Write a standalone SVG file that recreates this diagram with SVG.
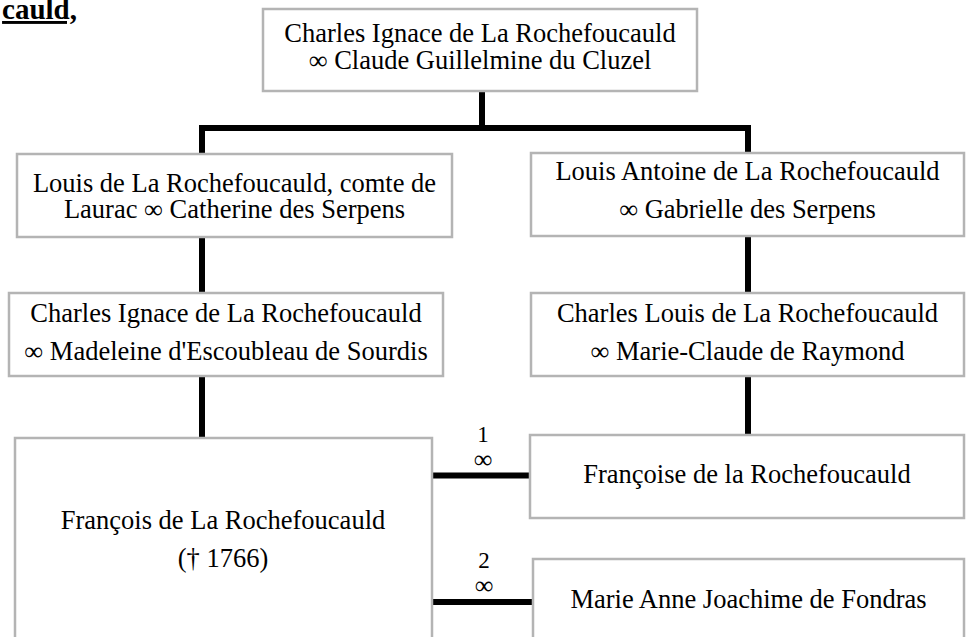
<svg xmlns="http://www.w3.org/2000/svg" width="972" height="637" viewBox="0 0 972 637">
<style>
  .box { fill: #ffffff; stroke: #b4b4b4; stroke-width: 2.5; }
  .t { font-family: "Liberation Serif", "Times New Roman", serif; font-size: 26.5px; fill: #000; text-anchor: middle; }
  .lbl { font-family: "Liberation Serif", "Times New Roman", serif; font-size: 23px; fill: #000; text-anchor: middle; }
  .inf { font-family: "Liberation Serif", "DejaVu Serif", serif; font-size: 26px; fill: #000; text-anchor: middle; }
  .conn { fill: none; stroke: #000; stroke-width: 6; stroke-linejoin: miter; stroke-linecap: butt; }
  .title { font-family: "Liberation Serif", "Times New Roman", serif; font-size: 29px; font-weight: bold; fill: #000; text-decoration: underline; }
</style>
<rect width="972" height="637" fill="#ffffff"/>
<text class="title" x="77" y="19" text-anchor="end">cauld,</text>

<g id="connectors">
  <path class="conn" d="M482,91 V128"/>
  <path class="conn" d="M202,154 V128 H748 V153"/>
  <path class="conn" d="M202,237 V293"/>
  <path class="conn" d="M202,376 V438"/>
  <path class="conn" d="M748,236 V293"/>
  <path class="conn" d="M748,376 V435"/>
  <path class="conn" d="M432,475.5 H530"/>
  <path class="conn" d="M432,602 H533"/>
  <text class="lbl" x="483" y="442">1</text>
  <text class="inf" x="483" y="468">∞</text>
  <text class="lbl" x="484" y="568">2</text>
  <text class="inf" x="484" y="594">∞</text>
</g>

<g id="n_charles_claude">
  <rect class="box" x="263" y="9" width="434" height="82"/>
  <text class="t" x="480" y="41.5">Charles Ignace de La Rochefoucauld</text>
  <text class="t" x="480" y="69">∞ Claude Guillelmine du Cluzel</text>
</g>

<g id="n_louis_catherine">
  <rect class="box" x="17" y="154" width="435" height="83"/>
  <text class="t" x="234.5" y="191.5">Louis de La Rochefoucauld, comte de</text>
  <text class="t" x="234.5" y="217.5">Laurac ∞ Catherine des Serpens</text>
</g>

<g id="n_louisantoine_gabrielle">
  <rect class="box" x="531" y="153" width="433" height="83"/>
  <text class="t" x="747.5" y="180">Louis Antoine de La Rochefoucauld</text>
  <text class="t" x="747.5" y="218">∞ Gabrielle des Serpens</text>
</g>

<g id="n_charles_madeleine">
  <rect class="box" x="9" y="293" width="434" height="83"/>
  <text class="t" x="226" y="322">Charles Ignace de La Rochefoucauld</text>
  <text class="t" x="226" y="360">∞ Madeleine d'Escoubleau de Sourdis</text>
</g>

<g id="n_charleslouis_marieclaude">
  <rect class="box" x="531" y="293" width="433" height="83"/>
  <text class="t" x="747.5" y="322">Charles Louis de La Rochefoucauld</text>
  <text class="t" x="747.5" y="360">∞ Marie-Claude de Raymond</text>
</g>

<g id="n_francois">
  <rect class="box" x="15" y="438" width="417" height="260"/>
  <text class="t" x="223" y="529">François de La Rochefoucauld</text>
  <text class="t" x="223" y="567">(† 1766)</text>
</g>

<g id="n_francoise">
  <rect class="box" x="530" y="435" width="434" height="83"/>
  <text class="t" x="747" y="483">Françoise de la Rochefoucauld</text>
</g>

<g id="n_marie_anne">
  <rect class="box" x="533" y="559" width="431" height="140"/>
  <text class="t" x="748.5" y="608">Marie Anne Joachime de Fondras</text>
</g>
</svg>
